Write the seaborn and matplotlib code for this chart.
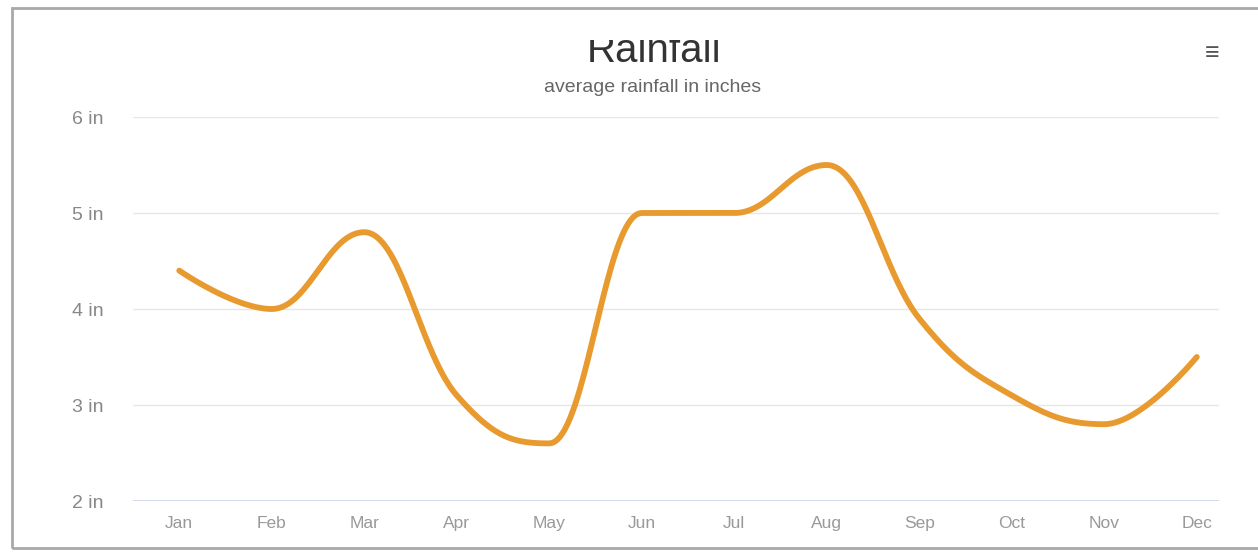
import numpy as np
import pandas as pd
import matplotlib
matplotlib.use('Agg')
import matplotlib.pyplot as plt
from matplotlib.patches import Rectangle
from matplotlib.transforms import Bbox
import seaborn as sns

# Chart data
months = ['Jan', 'Feb', 'Mar', 'Apr', 'May', 'Jun',
          'Jul', 'Aug', 'Sep', 'Oct', 'Nov', 'Dec']
rainfall = [4.4, 4.0, 4.8, 3.1, 2.6, 5.0, 5.0, 5.5, 3.9, 3.1, 2.8, 3.5]
y_ticks = [2, 3, 4, 5, 6]
y_tick_labels = ['2 in', '3 in', '4 in', '5 in', '6 in']


def spline_path(xs, ys, smoothing=1.5, steps=40):
    # smooth the line the way a charting spline does (bezier through each point)
    n = len(xs)
    left = [(xs[i], ys[i]) for i in range(n)]
    right = [(xs[i], ys[i]) for i in range(n)]
    denom = smoothing + 1
    for i in range(1, n - 1):
        px, py = xs[i], ys[i]
        lx, ly = xs[i - 1], ys[i - 1]
        nx, ny = xs[i + 1], ys[i + 1]
        lcx = (smoothing * px + lx) / denom
        lcy = (smoothing * py + ly) / denom
        rcx = (smoothing * px + nx) / denom
        rcy = (smoothing * py + ny) / denom
        if rcx != lcx:
            corr = (rcy - lcy) * (rcx - px) / (rcx - lcx) + py - rcy
            lcy += corr
            rcy += corr
        if lcy > ly and lcy > py:
            lcy = max(ly, py)
            rcy = 2 * py - lcy
        elif lcy < ly and lcy < py:
            lcy = min(ly, py)
            rcy = 2 * py - lcy
        if rcy > ny and rcy > py:
            rcy = max(ny, py)
            lcy = 2 * py - rcy
        elif rcy < ny and rcy < py:
            rcy = min(ny, py)
            lcy = 2 * py - rcy
        left[i] = (lcx, lcy)
        right[i] = (rcx, rcy)
    t = np.linspace(0, 1, steps)[:, None]
    pts = []
    for i in range(n - 1):
        p0 = np.array([xs[i], ys[i]])
        p1 = np.array(right[i])
        p2 = np.array(left[i + 1])
        p3 = np.array([xs[i + 1], ys[i + 1]])
        seg = ((1 - t) ** 3) * p0 + 3 * ((1 - t) ** 2) * t * p1 \
            + 3 * (1 - t) * t ** 2 * p2 + t ** 3 * p3
        pts.append(seg if i == 0 else seg[1:])
    pts = np.vstack(pts)
    return pts[:, 0], pts[:, 1]


sns.set_theme(style='white')
plt.rcParams['font.family'] = ['Liberation Sans', 'DejaVu Sans']

W, H = 1258, 552
fig = plt.figure(figsize=(W / 100, H / 100), dpi=100)
ax = fig.add_axes([133 / W, 51 / H, 1086 / W, 384 / H])

sx, sy = spline_path(list(range(len(months))), rainfall)
curve = pd.DataFrame({'x': sx, 'y': sy})
sns.lineplot(data=curve, x='x', y='y', ax=ax, sort=False, estimator=None,
             color='#e89a2f', linewidth=4.2, solid_capstyle='round')

ax.set_xlim(-0.5, 11.24)
ax.set_ylim(2, 6)
ax.set_yticks(y_ticks)
ax.set_yticklabels(y_tick_labels)
ax.set_xticks(range(len(months)))
ax.set_xticklabels(months)
ax.set_xlabel('')
ax.set_ylabel('')
ax.tick_params(axis='y', length=0, pad=21, labelsize=14, labelcolor='#888888')
ax.tick_params(axis='x', length=0, pad=11, labelsize=12.5, labelcolor='#999999')

for yv in y_ticks[1:]:
    ax.axhline(yv, color='#e6e6e6', linewidth=1, zorder=0)
ax.axhline(2, color='#ccd6eb', linewidth=1.2, zorder=0)
for side in ['top', 'right', 'left', 'bottom']:
    ax.spines[side].set_visible(False)

title = fig.text(654 / W, 1 - 62 / H, 'Rainfall', ha='center', va='baseline',
                 fontsize=29, color='#333333')
# top of the title is cut off in the reference
title.set_clip_box(Bbox.from_extents(0, 0, W, H - 40))
title.set_clip_on(True)
fig.text(653 / W, 1 - 88 / H, 'average rainfall in inches', ha='center',
         va='center', fontsize=14, color='#666666')
fig.text(1212 / W, 1 - 53 / H, '\u2261', ha='center', va='center',
         fontsize=18, fontweight='bold', color='#555555')

fig.patches.append(Rectangle((12 / W, 4 / H), 1.1, 540 / H,
                             transform=fig.transFigure, fill=False,
                             edgecolor='#a8a8a8', linewidth=2, zorder=-1))

fig.savefig('out.png', dpi=100, facecolor='white')
